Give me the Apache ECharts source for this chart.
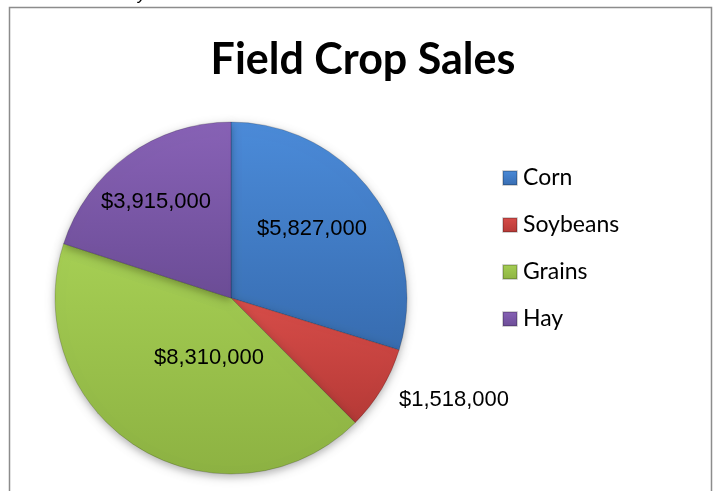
<!DOCTYPE html>
<html>
	<head>
		<meta charset="utf-8">
		<title>Field Crop Sales</title>
		<script src="https://cdn.jsdelivr.net/npm/echarts@6/dist/echarts.min.js"></script>
		<style>
			html, body { margin: 0; padding: 0; background: #fff; }
			#main { width: 723px; height: 491px; }
		</style>
	</head>
	<body>
		<div id="main"></div>
		<script>
			// 数据
			var crops = ['Corn', 'Soybeans', 'Grains', 'Hay']
			var sales = [5827000, 1518000, 8310000, 3915000]
			// 颜色 (上/下 渐变)
			var topColors = ['#4b8bd9', '#d84d49', '#a6cf54', '#8862b6']
			var bottomColors = ['#376cb0', '#b53936', '#8db242', '#6b4c96']
			// 标签位置
			var labelPos = [[312, 229], [454, 400], [209, 358], [156, 202]]

			function money(v) {
				return '$' + v.toString().replace(/\B(?=(\d{3})+(?!\d))/g, ',')
			}

			var pieData = crops.map(function(name, i) {
				var item = {
					name: name,
					value: sales[i],
					itemStyle: {
						color: {
							type: 'linear', x: 0, y: 0, x2: 0, y2: 1,
							colorStops: [
								{ offset: 0, color: topColors[i] },
								{ offset: 1, color: bottomColors[i] }
							]
						}
					}
				}
				if (name === 'Soybeans') {
					item.label = { position: 'outside' }
					item.labelLine = { show: false }
				}
				return item
			})

			var myChart = echarts.init(document.getElementById('main'))
			var option = {
				animation: false,
				title: {
					text: 'Field Crop Sales',
					left: 358,
					textAlign: 'center',
					top: 34,
					textStyle: {
						fontFamily: 'Lato',
						fontWeight: 'bold',
						fontSize: 43,
						color: '#000'
					}
				},
				legend: {
					orient: 'vertical',
					left: 502,
					top: 166,
					padding: 0,
					itemWidth: 14,
					itemHeight: 14,
					itemGap: 23,
					icon: 'rect',
					data: crops,
					textStyle: {
						fontFamily: 'Lato',
						fontSize: 23,
						lineHeight: 24,
						color: '#000',
						padding: [0, 0, 0, 1]
					}
				},
				graphic: [
					{
						type: 'rect',
						shape: { x: 9.5, y: 7.5, width: 702, height: 520 },
						style: { fill: 'none', stroke: '#8c8c8c', lineWidth: 1.5 },
						silent: true
					},
					{
						type: 'text',
						left: 138,
						top: -12,
						style: { text: 'y', font: 'italic 16px "Liberation Sans"', fill: '#000' }
					}
				],
				series: [{
					type: 'pie',
					center: [231, 298],
					radius: 176,
					startAngle: 90,
					clockwise: true,
					data: pieData,
					itemStyle: {
						borderColor: 'rgba(0,0,0,0.18)',
						borderWidth: 1,
						shadowBlur: 8,
						shadowOffsetY: 3,
						shadowColor: 'rgba(0,0,0,0.3)'
					},
					label: {
						show: true,
						position: 'inside',
						formatter: function(p) { return money(p.value) },
						fontFamily: 'Liberation Sans',
						fontSize: 22,
						color: '#000'
					},
					labelLayout: function(params) {
						var p = labelPos[params.dataIndex]
						return { x: p[0], y: p[1], align: 'center', verticalAlign: 'middle' }
					}
				}]
			}
			myChart.setOption(option)
		</script>
	</body>
</html>
